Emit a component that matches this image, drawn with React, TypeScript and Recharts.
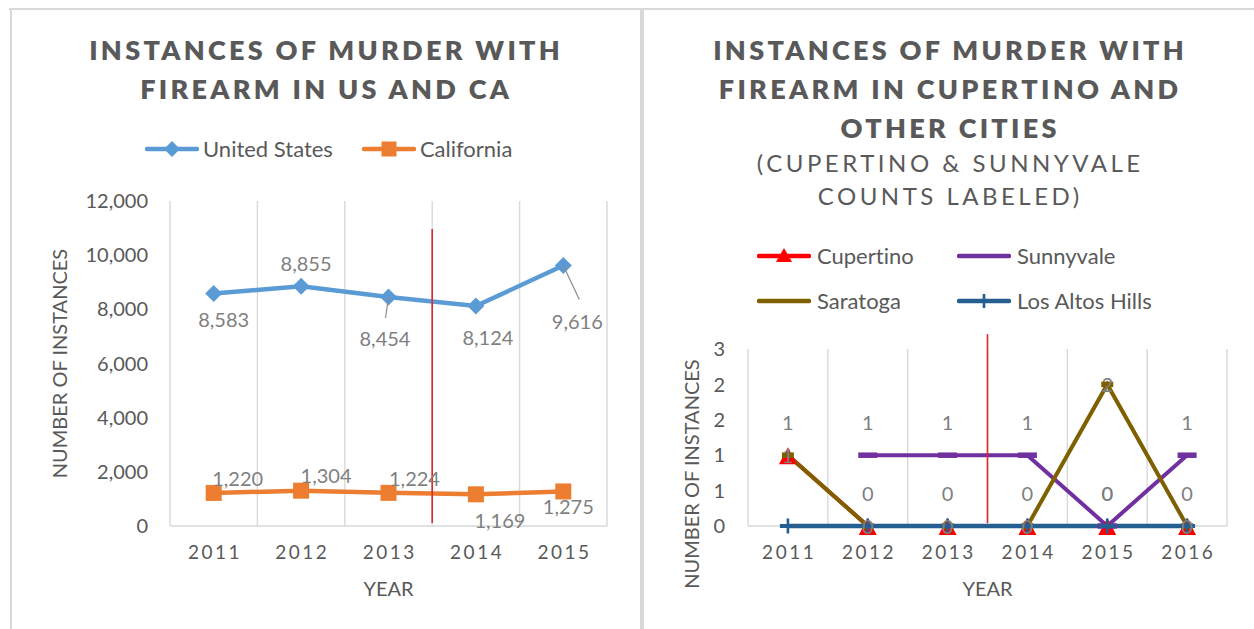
import React from 'react'
import { CartesianGrid, Legend, Line, LineChart, ReferenceLine, XAxis, YAxis } from 'recharts'

// ---- left chart: US vs California
const usYears = ['2011', '2012', '2013', '2014', '2015']
const unitedStates = [8583, 8855, 8454, 8124, 9616]
const california = [1220, 1304, 1224, 1169, 1275]
const usTicks = [0, 2000, 4000, 6000, 8000, 10000, 12000]

// ---- right chart: Cupertino and other cities
const cityYears = ['2011', '2012', '2013', '2014', '2015', '2016']
const cupertino = [1, 0, 0, 0, 0, 0]
const sunnyvale = [null, 1, 1, 1, 0, 1]
const saratoga = [1, 0, 0, 0, 2, 0]
const losAltosHills = [0, 0, 0, 0, 0, 0]
const cityTicks = [0, 0.5, 1, 1.5, 2, 2.5]

// the hand-drawn red divider, top end in axis units
const usDividerTop = 10970
const cityDividerTop = 2.71

const usData = usYears.map((year, i) => ({ year, us: unitedStates[i], ca: california[i] }))
const cityData = cityYears.map((year, i) => ({
    year,
    cupertino: cupertino[i],
    sunnyvale: sunnyvale[i],
    saratoga: saratoga[i],
    lah: losAltosHills[i],
}))

// label placement (px from the point), the way the labels sit in the source
const usLabelShift = [[10, 25.5], [5, -23], [-3.5, 41], [12, 31], [14, 55]]
const usLeaders = [null, null, [-3, 21], null, [16, 34]]
const caLabelShift = [[24, -15], [25, -16], [26, -15], [24, 26], [5, 15]]

const ink = '#595959'
const labelInk = '#7F7F7F'
const gridColor = '#D9D9D9'
const font = 'Lato, "Open Sans", sans-serif'

const colors = {
    us: '#5B9BD5',
    ca: '#ED7D31',
    cupertino: '#FF0000',
    sunnyvale: '#7030A0',
    saratoga: '#7F6000',
    lah: '#255E91',
}

const fmtThousands = (v: number) => v.toLocaleString('en-US')
const fmtRound = (v: number) => String(Math.round(v))

const pointOf = (p: any) => ({
    x: p.viewBox?.x ?? p.x,
    y: p.viewBox?.y ?? p.y,
})

const makeLabel = (shifts: number[][] | null, leaders: (number[] | null)[] | null, fmt: (v: number) => string, fixed?: number[]) =>
    (props: any) => {
        const { index, value } = props
        const { x, y } = pointOf(props)
        if (value == null || x == null || y == null) return null
        const [dx, dy] = fixed ?? (shifts && shifts[index]) ?? [0, 0]
        const leader = leaders ? leaders[index] : null
        return (
            <g>
                {leader && <line x1={x} y1={y} x2={x + leader[0]} y2={y + leader[1]} stroke="#8C8C8C" strokeWidth={1.2} />}
                <text x={x + dx} y={y + dy} textAnchor="middle" dominantBaseline="central" fill={labelInk} fontSize={20} fontFamily={font}>
                    {fmt(value)}
                </text>
            </g>
        )
    }

// ---- markers
const Diamond = (props: any) => {
    const { cx, cy, index } = props
    if (cx == null || cy == null) return <g key={index} />
    return <path key={index} d={`M${cx},${cy - 8.5}L${cx + 8.5},${cy}L${cx},${cy + 8.5}L${cx - 8.5},${cy}Z`} fill={colors.us} />
}
const Square = (props: any) => {
    const { cx, cy, index } = props
    if (cx == null || cy == null) return <g key={index} />
    return <rect key={index} x={cx - 8} y={cy - 8} width={16} height={16} fill={colors.ca} />
}
const Triangle = (props: any) => {
    const { cx, cy, index } = props
    if (cx == null || cy == null) return <g key={index} />
    return <path key={index} d={`M${cx},${cy - 8}L${cx + 9},${cy + 9}L${cx - 9},${cy + 9}Z`} fill={colors.cupertino} />
}
const dash = (color: string, w: number) => (props: any) => {
    const { cx, cy, index } = props
    if (cx == null || cy == null) return <g key={index} />
    return <rect key={index} x={cx - w / 2} y={cy - 2.75} width={w} height={5.5} fill={color} />
}
const Plus = (props: any) => {
    const { cx, cy, index } = props
    if (cx == null || cy == null) return <g key={index} />
    return (
        <g key={index}>
            <rect x={cx - 8} y={cy - 2} width={16} height={4} fill={colors.lah} />
            <rect x={cx - 1.3} y={cy - 7.5} width={2.6} height={15} fill={colors.lah} />
        </g>
    )
}

// ---- axis pieces
const YearTick = (props: any) => {
    const { x, y, payload } = props
    return (
        <text x={x + 1.25} y={y} dy="0.71em" textAnchor="middle" fill={ink} fontSize={19} fontFamily={font} letterSpacing={2.5}>
            {payload.value}
        </text>
    )
}

const sideTitle = (text: string, x: number, y?: number) => (props: any) => {
    const vb = props.viewBox || {}
    const cy = y ?? vb.y + vb.height / 2
    return (
        <text x={x} y={cy} transform={`rotate(-90 ${x} ${cy})`} textAnchor="middle" dominantBaseline="central" fill={ink} fontSize={20} fontFamily={font}>
            {text}
        </text>
    )
}

const bottomTitle = (text: string, y: number) => (props: any) => {
    const vb = props.viewBox || {}
    return (
        <text x={vb.x + vb.width / 2} y={y} textAnchor="middle" dominantBaseline="central" fill={ink} fontSize={20} fontFamily={font}>
            {text}
        </text>
    )
}

// band edges for the vertical grid, and the category baseline (kept under the series)
const bandEdges = (count: number) => ({ offset }: any) =>
    Array.from({ length: count + 1 }, (_, i) => offset.left + (offset.width * i) / count)
const baseline = ({ offset }: any) => [offset.top + offset.height]

const dividerShape = (frac: number) => (p: any) => {
    const top = Math.min(p.y1, p.y2)
    const bottom = Math.max(p.y1, p.y2)
    const h = bottom - top
    return <line x1={p.x1} x2={p.x2} y1={bottom - h * frac} y2={bottom - 3} stroke="#E3262A" strokeWidth={1.6} />
}

// ---- legends
const LegendIcon: React.FC<{ color: string; marker?: (cx: number, cy: number) => React.ReactNode }> = ({ color, marker }) => (
    <svg width={54} height={20} style={{ display: 'block' }}>
        <line x1={2} x2={52} y1={10} y2={10} stroke={color} strokeWidth={4.5} strokeLinecap="round" />
        {marker && marker(27, 10)}
    </svg>
)

const legendText: React.CSSProperties = {
    fontFamily: font,
    fontSize: 22,
    color: ink,
    lineHeight: '25px',
    whiteSpace: 'nowrap',
    fontVariantLigatures: 'none',
}

const UsLegend = () => (
    <div style={{ display: 'flex', alignItems: 'center' }}>
        <LegendIcon color={colors.us} marker={(cx, cy) => <path d={`M${cx},${cy - 8}L${cx + 8},${cy}L${cx},${cy + 8}L${cx - 8},${cy}Z`} fill={colors.us} />} />
        <span style={{ ...legendText, marginLeft: 4 }}>United States</span>
        <span style={{ width: 29 }} />
        <LegendIcon color={colors.ca} marker={(cx, cy) => <rect x={cx - 7.5} y={cy - 7.5} width={15} height={15} fill={colors.ca} />} />
        <span style={{ ...legendText, marginLeft: 4 }}>California</span>
    </div>
)

const cityLegendItems = [
    { name: 'Cupertino', color: colors.cupertino, marker: (cx: number, cy: number) => <path d={`M${cx},${cy - 8}L${cx + 8},${cy + 6}L${cx - 8},${cy + 6}Z`} fill={colors.cupertino} /> },
    { name: 'Sunnyvale', color: colors.sunnyvale },
    { name: 'Saratoga', color: colors.saratoga },
    { name: 'Los Altos Hills', color: colors.lah, marker: (cx: number, cy: number) => <rect x={cx - 1.3} y={cy - 7} width={2.6} height={14} fill={colors.lah} /> },
]

const CityLegend = () => (
    <div style={{ display: 'grid', gridTemplateColumns: '200px 200px', rowGap: 20 }}>
        {cityLegendItems.map((item) => (
            <div key={item.name} style={{ display: 'flex', alignItems: 'center' }}>
                <LegendIcon color={item.color} marker={item.marker} />
                <span style={{ ...legendText, marginLeft: 6 }}>{item.name}</span>
            </div>
        ))}
    </div>
)

// ---- titles
const titleLine: React.CSSProperties = {
    fontFamily: font,
    fontWeight: 800,
    fontSize: 27,
    letterSpacing: 3.3,
    paddingLeft: 3.3,
    lineHeight: '39px',
    color: ink,
    textAlign: 'center',
    whiteSpace: 'nowrap',
    fontVariantLigatures: 'none',
}
const subLine: React.CSSProperties = {
    fontFamily: font,
    fontSize: 24,
    letterSpacing: 3.5,
    paddingLeft: 3.5,
    lineHeight: '33px',
    color: ink,
    textAlign: 'center',
    whiteSpace: 'nowrap',
    fontVariantLigatures: 'none',
}

const UsChart = () => (
    <LineChart width={640} height={629} data={usData} margin={{ top: 201, right: 33, bottom: 23, left: 0 }}>
        <CartesianGrid stroke={gridColor} strokeWidth={1.4} verticalCoordinatesGenerator={bandEdges(usYears.length)} horizontalCoordinatesGenerator={baseline} />
        <XAxis dataKey="year" scale="band" axisLine={false} tickLine={false} tickSize={0} tickMargin={20} height={80}
            tick={<YearTick />} label={bottomTitle('YEAR', 588)} />
        <YAxis domain={[0, 12000]} ticks={usTicks} width={170} axisLine={false} tickLine={false} tickSize={0} tickMargin={22}
            tickFormatter={fmtThousands} tick={{ fill: ink, fontSize: 20, fontFamily: font }}
            label={sideTitle('NUMBER OF INSTANCES', 59)} />
        <Legend verticalAlign="middle" align="center" layout="horizontal" wrapperStyle={{ left: 145, top: 136, width: 'auto', height: 'auto' }} content={() => <UsLegend />} />
        <Line dataKey="us" name="United States" stroke={colors.us} strokeWidth={4.5} dot={Diamond} activeDot={false}
            label={makeLabel(usLabelShift, usLeaders, fmtThousands)} isAnimationActive={false} />
        <Line dataKey="ca" name="California" stroke={colors.ca} strokeWidth={4.5} dot={Square} activeDot={false}
            label={makeLabel(caLabelShift, null, fmtThousands)} isAnimationActive={false} />
        <ReferenceLine x="2013" position="end" ifOverflow="visible" shape={dividerShape(usDividerTop / 12000)} />
    </LineChart>
)

const CityChart = () => (
    <LineChart width={614} height={629} data={cityData} margin={{ top: 349, right: 27, bottom: 23, left: 0 }}>
        <CartesianGrid stroke={gridColor} strokeWidth={1.4} verticalCoordinatesGenerator={bandEdges(cityYears.length)} horizontalCoordinatesGenerator={baseline} />
        <XAxis dataKey="year" scale="band" axisLine={false} tickLine={false} tickSize={0} tickMargin={20} height={80}
            tick={<YearTick />} label={bottomTitle('YEAR', 588)} />
        <YAxis domain={[0, 2.5]} ticks={cityTicks} width={108} axisLine={false} tickLine={false} tickSize={0} tickMargin={23}
            tickFormatter={fmtRound} tick={{ fill: ink, fontSize: 20, fontFamily: font }}
            label={sideTitle('NUMBER OF INSTANCES', 51, 474)} />
        <Legend verticalAlign="middle" align="center" layout="horizontal" wrapperStyle={{ left: 117, top: 243, width: 'auto', height: 'auto' }} content={() => <CityLegend />} />
        {/* lines first */}
        <Line dataKey="cupertino" stroke={colors.cupertino} strokeWidth={4} dot={false} activeDot={false} legendType="none" isAnimationActive={false} />
        <Line dataKey="sunnyvale" stroke={colors.sunnyvale} strokeWidth={4} dot={false} activeDot={false} legendType="none" isAnimationActive={false} />
        <Line dataKey="saratoga" stroke={colors.saratoga} strokeWidth={4} dot={false} activeDot={false} legendType="none" isAnimationActive={false} />
        <Line dataKey="lah" stroke={colors.lah} strokeWidth={4.5} dot={false} activeDot={false} legendType="none" isAnimationActive={false} />
        {/* then markers and labels on top */}
        <Line dataKey="cupertino" stroke="none" dot={Triangle} activeDot={false} legendType="none" isAnimationActive={false}
            label={makeLabel(null, null, fmtRound, [0, -33])} />
        <Line dataKey="sunnyvale" stroke="none" dot={dash(colors.sunnyvale, 19)} activeDot={false} legendType="none" isAnimationActive={false}
            label={makeLabel(null, null, fmtRound, [0, -33])} />
        <Line dataKey="saratoga" stroke="none" dot={dash(colors.saratoga, 12)} activeDot={false} legendType="none" isAnimationActive={false}
            label={makeLabel(null, null, fmtRound, [0, 0])} />
        <Line dataKey="lah" stroke="none" dot={Plus} activeDot={false} legendType="none" isAnimationActive={false} />
        <ReferenceLine x="2013" position="end" ifOverflow="visible" shape={dividerShape(cityDividerTop / 2.5)} />
    </LineChart>
)

const App: React.FC = () => {
    return (
        <div style={{ position: 'absolute', left: 0, top: 0, width: 1254, height: 629, background: '#fff', overflow: 'hidden' }}>
            {/* panel frames */}
            <div style={{ position: 'absolute', left: 9, top: 8, width: 1245, height: 2, background: gridColor }} />
            <div style={{ position: 'absolute', left: 10, top: 8, width: 2, height: 621, background: gridColor }} />
            <div style={{ position: 'absolute', left: 640, top: 8, width: 3.5, height: 621, background: gridColor }} />

            <div style={{ position: 'absolute', left: 9, top: 29.5, width: 631 }}>
                <div style={titleLine}>INSTANCES OF MURDER WITH</div>
                <div style={titleLine}>FIREARM IN US AND CA</div>
            </div>
            <div style={{ position: 'absolute', left: 643, top: 29.5, width: 611 }}>
                <div style={titleLine}>INSTANCES OF MURDER WITH</div>
                <div style={titleLine}>FIREARM IN CUPERTINO AND</div>
                <div style={titleLine}>OTHER CITIES</div>
                <div style={{ ...subLine, marginTop: -1 }}>(CUPERTINO &amp; SUNNYVALE</div>
                <div style={subLine}>COUNTS LABELED)</div>
            </div>

            <div style={{ position: 'absolute', left: 0, top: 0 }}>
                <UsChart />
            </div>
            <div style={{ position: 'absolute', left: 640, top: 0 }}>
                <CityChart />
            </div>
        </div>
    )
}

export default App
